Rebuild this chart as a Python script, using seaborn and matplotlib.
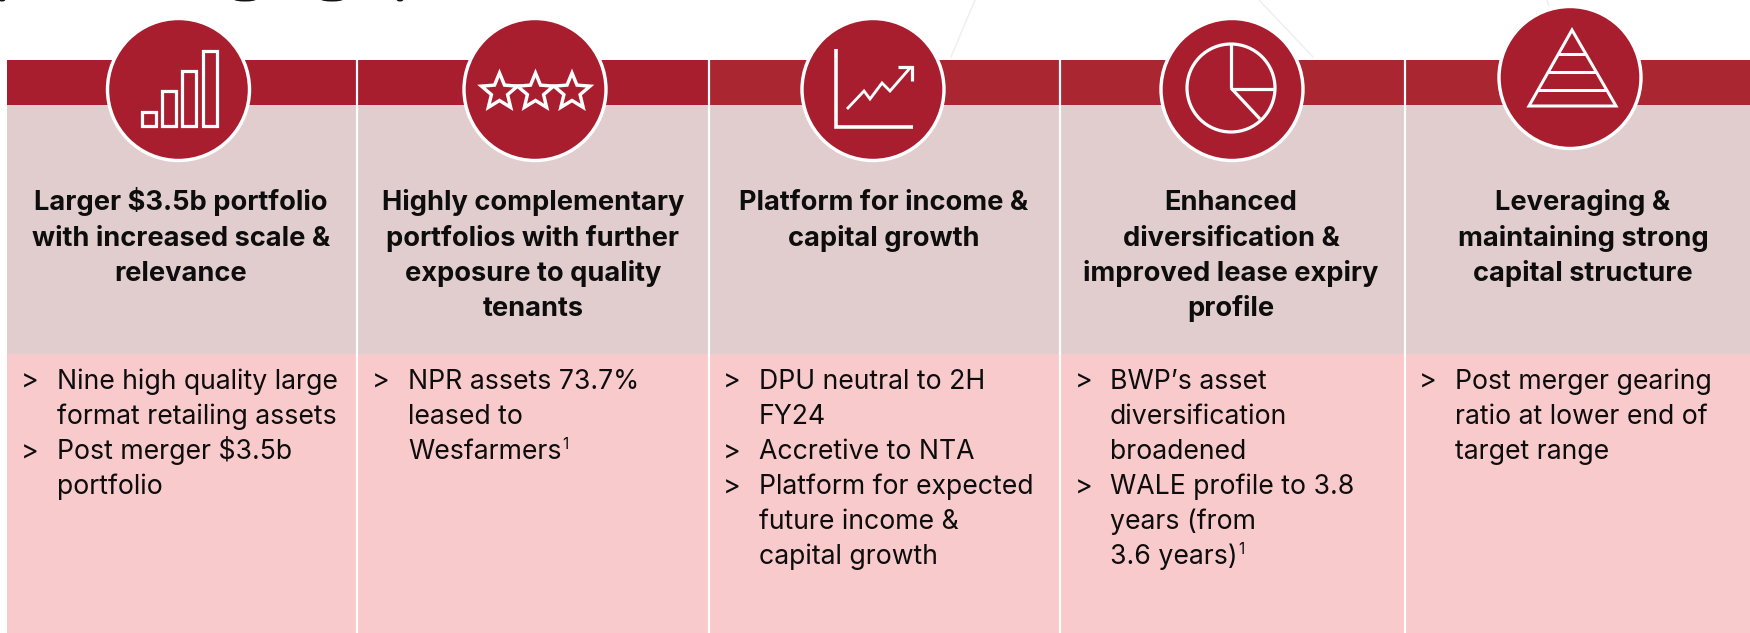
import numpy as np
import seaborn as sns
import matplotlib.pyplot as plt
from matplotlib.patches import Circle, Rectangle, Polygon, Ellipse

# text of the five columns
headings = [
    ['Larger $3.5b portfolio', 'with increased scale &', 'relevance'],
    ['Highly complementary', 'portfolios with further', 'exposure to quality', 'tenants'],
    ['Platform for income &', 'capital growth'],
    ['Enhanced', 'diversification &', 'improved lease expiry', 'profile'],
    ['Leveraging &', 'maintaining strong', 'capital structure'],
]
bullets = [
    [['Nine high quality large', 'format retailing assets'], ['Post merger $3.5b', 'portfolio']],
    [['NPR assets 73.7%', 'leased to', 'Wesfarmers^1']],
    [['DPU neutral to 2H', 'FY24'], ['Accretive to NTA'], ['Platform for expected', 'future income &', 'capital growth']],
    [['BWP\u2019s asset', 'diversification', 'broadened'], ['WALE profile to 3.8', 'years (from', '3.6 years)^1']],
    [['Post merger gearing', 'ratio at lower end of', 'target range']],
]

FONT = 'Inter'
DARK_RED, SOFT_RED, GREY_PINK, PINK = sns.color_palette(['#A81E2F', '#AA2631', '#E1CDCD', '#F9CACB'])
INK = '#0D0D0D'

sns.set_theme(style='white')
plt.rcParams['font.family'] = [FONT, 'DejaVu Sans']

fig = plt.figure(figsize=(17.5, 6.33), dpi=100, facecolor='white')
ax = fig.add_axes([0, 0, 1, 1])
ax.set_xlim(0, 1750)
ax.set_ylim(633, 0)
ax.axis('off')

edges = [6.5, 357, 708.5, 1060, 1405, 1750]
head_x = [181, 533, 884, 1231, 1583]
gt_x = [21, 372, 723, 1075, 1419]
body_x = [57, 408, 759, 1110, 1455]
circ = [(178.5, 89.5), (535, 89.5), (873, 89.5), (1232, 89.5), (1570, 77.5)]
px = 0.72  # one pixel in points at dpi 100


def line(xs, ys, lw=3.0, **kw):
    ax.plot(xs, ys, color='white', lw=lw * px, solid_capstyle='butt', solid_joinstyle='miter', zorder=6, **kw)


# panels
for i in range(5):
    l, r = edges[i], edges[i + 1]
    band = DARK_RED if i < 2 else SOFT_RED
    ax.add_patch(Rectangle((l, 59.5), r - l, 45.5, fc=band, ec='none', zorder=1))
    ax.add_patch(Rectangle((l, 105), r - l, 249, fc=GREY_PINK, ec='none', zorder=1))
    ax.add_patch(Rectangle((l, 354), r - l, 279, fc=PINK, ec='none', zorder=1))
for x in edges[1:5]:
    ax.plot([x, x], [59, 633], color='white', lw=2.2 * px, zorder=2)

# faint background lines and the cut off title above the panels
for xs, ys in [([975, 951], [0, 57]), ([1259, 1313], [0, 57]), ([1547, 1549], [0, 6])]:
    ax.plot(xs, ys, color='#EFEFEF', lw=1.5 * px, zorder=0)
for x, w in [(2, 7), (245, 22), (332, 22), (400, 7)]:
    ax.add_patch(Ellipse((x, -0.5), w, 4, fc='#111111', ec='none', zorder=0))

# circles
for cx, cy in circ:
    ax.add_patch(Circle((cx, cy), 71, fc=DARK_RED, ec='white', lw=3.4 * px, zorder=4))

# bars icon
for x0, top in zip([141.5, 162, 182, 202.5], [112, 91, 71, 51]):
    ax.add_patch(Rectangle((x0, top), 14, 127 - top - 1, fc='none', ec='white', lw=3.2 * px, zorder=6))

# stars icon
ang = np.pi / 2 + np.arange(10) * np.pi / 5
rad = np.where(np.arange(10) % 2 == 0, 19, 8.5)
for sx in [499.5, 535.5, 572]:
    ax.add_patch(Polygon(np.c_[sx + rad * np.cos(ang), 92 - rad * np.sin(ang)], closed=True,
                         fc='none', ec='white', lw=3.4 * px, zorder=6, joinstyle='miter'))

# growth chart icon
line([836, 836, 913], [49, 126.5, 126.5], lw=3.6)
line([847, 864, 870, 882, 890, 910], [109, 91, 99, 83, 91, 68], lw=2.8)
line([898, 912, 912], [67, 67, 81], lw=3.2)

# pie icon
ax.add_patch(Circle((1231, 88), 44, fc='none', ec='white', lw=3.2 * px, zorder=6))
line([1231, 1231], [44, 88], lw=3.2)
line([1231, 1275], [89, 89], lw=3.2)
line([1231, 1260], [88, 119], lw=3.2)

# pyramid icon
ax.add_patch(Polygon([(1572, 30), (1529, 106), (1616, 106)], closed=True, fc='none', ec='white',
                     lw=3 * px, zorder=6, joinstyle='miter'))
for y in [54, 72, 90]:
    hw = (y - 30) / 76 * 43.5
    line([1572 - hw, 1572 + hw], [y, y], lw=3)

# text
HEAD_SIZE = 19.6
BODY_SIZE = 19.2
fig.canvas.draw()
rend = fig.canvas.get_renderer()
for i in range(5):
    for k, t in enumerate(headings[i]):
        ax.text(head_x[i], 210.5 + k * 35.1, t, fontsize=HEAD_SIZE, fontweight='bold', color=INK, ha='center', va='baseline', zorder=7)
    row = 0
    for item in bullets[i]:
        ax.text(gt_x[i], 389 + row * 35.1, '>', fontsize=BODY_SIZE, color=INK, ha='left', va='baseline', zorder=7)
        for t in item:
            y = 389 + row * 35.1
            sup = t.endswith('^1')
            txt = ax.text(body_x[i], y, t.replace('^1', ''), fontsize=BODY_SIZE, color=INK, ha='left', va='baseline', zorder=7)
            if sup:
                right = ax.transData.inverted().transform(txt.get_window_extent(rend))[1][0]
                ax.text(right + 1, y - 10, '1', fontsize=11, color=INK, ha='left', va='baseline', zorder=7)
            row += 1

fig.savefig('out.png', dpi=100, facecolor='white')
